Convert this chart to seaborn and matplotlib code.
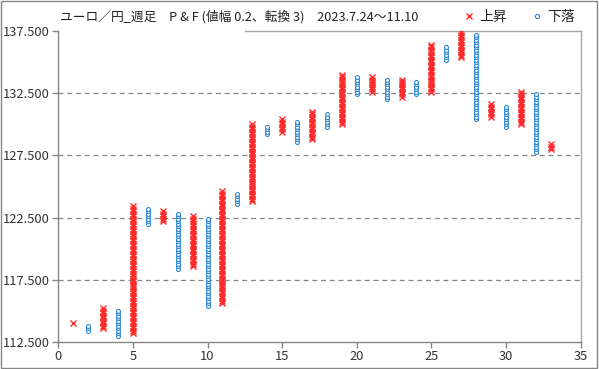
import numpy as np
import pandas as pd
import seaborn as sns
import matplotlib.pyplot as plt
from matplotlib.patches import Rectangle
from matplotlib.lines import Line2D

sns.set_theme(style="white")
plt.rcParams['font.family'] = ['Noto Sans CJK JP', 'DejaVu Sans']

# P&F columns (box 0.2, reversal 3): column no., direction, low, high
col_no = list(range(1, 34))
col_dir = ["X", "O"] * 16 + ["X"]
col_low = [114.0, 113.4, 113.6, 113.0, 113.2, 122.0, 122.2, 118.4, 118.6, 115.4,
           115.6, 123.6, 123.8, 129.2, 129.4, 128.6, 128.8, 129.8, 130.0, 132.4,
           132.6, 132.0, 132.2, 132.4, 132.6, 135.2, 135.4, 130.4, 130.6, 129.8,
           130.0, 127.8, 128.0]
col_high = [114.0, 113.8, 115.2, 115.0, 123.4, 123.2, 123.0, 122.8, 122.6, 122.4,
            124.6, 124.4, 130.0, 129.8, 130.4, 130.2, 131.0, 130.8, 134.0, 133.8,
            133.8, 133.6, 133.6, 133.4, 136.4, 136.2, 137.4, 137.2, 131.6, 131.4,
            132.6, 132.4, 128.4]
box = 0.2

rows = []
for c, d, lo, hi in zip(col_no, col_dir, col_low, col_high):
    n = int(round((hi - lo) / box)) + 1
    for k in range(n):
        rows.append({"col": c, "price": round(lo + k * box, 1), "dir": d})
df = pd.DataFrame(rows)

red = "#FF2A2A"
blue = "#2E88D4"
gray = "#868686"

fig = plt.figure(figsize=(5.99, 3.69), dpi=100)
ax = fig.add_axes([0.0973, 0.0732, 0.9694 - 0.0973, 0.916 - 0.0732])

sns.scatterplot(data=df[df["dir"] == "X"], x="col", y="price", marker="x",
                color=red, s=19, linewidth=1.0, ax=ax, legend=False, zorder=3)
sns.scatterplot(data=df[df["dir"] == "O"], x="col", y="price", marker="o",
                facecolor="white", edgecolor=blue, s=8, linewidth=0.8, ax=ax,
                legend=False, zorder=3)

ax.set_xlim(0, 35)
ax.set_ylim(112.5, 137.5)
ax.set_xticks(range(0, 36, 5))
yt = np.arange(112.5, 137.6, 5)
ax.set_yticks(yt)
ax.set_yticklabels([f"{v:.3f}" for v in yt])
ax.set_xlabel("")
ax.set_ylabel("")
for v in yt[1:-1]:
    ax.axhline(v, color=gray, lw=0.9, ls=(0, (4, 3)), zorder=1)

for s in ["left", "bottom"]:
    ax.spines[s].set_color(gray)
    ax.spines[s].set_linewidth(1.0)
for s in ["top", "right"]:
    ax.spines[s].set_color("#A6A6A6")
    ax.spines[s].set_linewidth(1.0)
ax.spines["top"].set_bounds(12.5, 35)
ax.tick_params(axis="both", direction="out", length=4, width=1.0, color=gray,
               labelsize=9.3, labelcolor="#333333", pad=2, left=True, bottom=True)

fig.text(60 / 599, 1 - 17 / 369,
         "ユーロ／円_週足　P & F (値幅 0.2、転換 3)　2023.7.24～11.10",
         fontsize=9.2, va="center", ha="left", color="#222222")

handles = [Line2D([], [], ls="", marker="x", color=red, markersize=4, mew=1.0),
           Line2D([], [], ls="", marker="o", mfc="white", mec=blue,
                  markersize=3, mew=0.8)]
fig.legend(handles, ["上昇", "下落"], loc="center", ncol=2, frameon=False,
           bbox_to_anchor=(519 / 599, 1 - 17 / 369), fontsize=10,
           handlelength=0.8, handletextpad=0.3, columnspacing=1.8)

fig.patches.append(Rectangle((0.001, 0.002), 0.995, 0.995, transform=fig.transFigure,
                             fill=False, edgecolor=gray, lw=1.0))

fig.savefig("out.png", dpi=100)
